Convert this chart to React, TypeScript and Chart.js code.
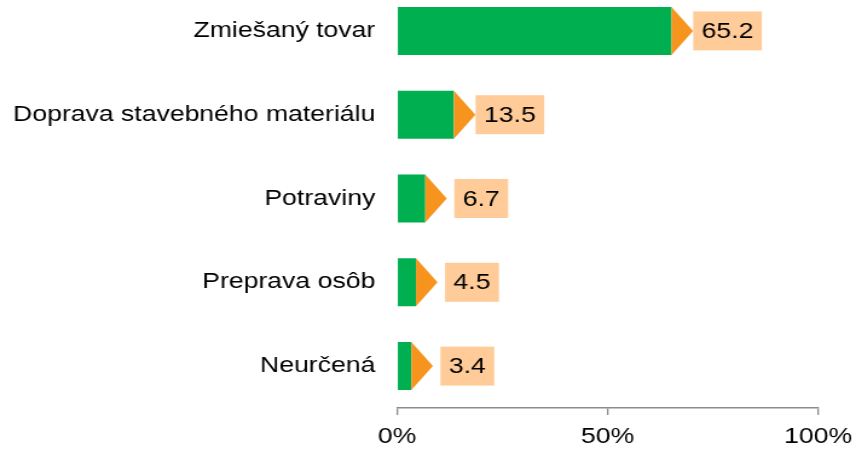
import React, { useEffect, useRef } from "react";
import { Chart, registerables } from "chart.js";

Chart.register(...registerables);

const categories = [
  "Zmiešaný tovar",
  "Doprava stavebného materiálu",
  "Potraviny",
  "Preprava osôb",
  "Neurčená",
];
const values = [65.2, 13.5, 6.7, 4.5, 3.4];
const xTicks = [0, 50, 100];

const GREEN = "#00B050";
const ORANGE = "#F7941E";
const PEACH = "#FFCC99";
const FONT = "'Liberation Sans', Arial, sans-serif";

// the reference is horizontally stretched; draw on a narrower canvas and stretch it
const CANVAS_W = 708;
const CANVAS_H = 462;
const STRETCH = 856 / CANVAS_W;

const arrowLabelPlugin = {
  id: "arrowLabels",
  afterDatasetsDraw(chart: any) {
    const ctx = chart.ctx;
    const meta = chart.getDatasetMeta(0);
    ctx.save();
    meta.data.forEach((bar: any, i: number) => {
      const x = bar.x;
      const y = bar.y;
      const h = bar.height;
      ctx.fillStyle = ORANGE;
      ctx.beginPath();
      ctx.moveTo(x, y - h / 2);
      ctx.lineTo(x + 17.8, y);
      ctx.lineTo(x, y + h / 2);
      ctx.closePath();
      ctx.fill();
      const text = values[i].toFixed(1);
      ctx.font = `22px ${FONT}`;
      const tw = ctx.measureText(text).width;
      const bw = tw + 14;
      const bh = 39;
      const cx = x + 46.3;
      ctx.fillStyle = PEACH;
      ctx.fillRect(cx - bw / 2, y - bh / 2, bw, bh);
      ctx.fillStyle = "#000";
      ctx.textAlign = "center";
      ctx.textBaseline = "middle";
      ctx.fillText(text, cx, y + 1);
    });
    ctx.restore();
  },
};

export default function App() {
  const ref = useRef<HTMLCanvasElement>(null);
  useEffect(() => {
    if (!ref.current) return;
    Chart.defaults.font.family = FONT;
    const chart = new Chart(ref.current, {
      type: "bar",
      data: {
        labels: categories,
        datasets: [
          {
            data: values,
            backgroundColor: GREEN,
            borderWidth: 0,
            barPercentage: 0.573,
            categoryPercentage: 1,
          },
        ],
      },
      options: {
        indexAxis: "y",
        animation: false,
        responsive: false,
        devicePixelRatio: 1,
        layout: { padding: { left: 0, right: 31.4, top: 0, bottom: 0 } },
        plugins: {
          legend: { display: false },
          tooltip: { enabled: false },
        },
        scales: {
          y: {
            grid: { display: false, drawTicks: false },
            border: { display: false },
            ticks: {
              color: "#000",
              font: { size: 22, family: FONT },
              padding: 18,
            },
            afterFit(scale: any) {
              scale.width = 328.4;
              scale.paddingTop = 0;
              scale.paddingBottom = 0;
            },
          },
          x: {
            min: 0,
            max: 100,
            afterBuildTicks(scale: any) {
              scale.ticks = xTicks.map((v) => ({ value: v }));
            },
            grid: {
              display: true,
              drawOnChartArea: false,
              drawTicks: true,
              tickLength: 7,
              color: "#8C8C8C",
              lineWidth: 1.3,
            },
            border: { display: true, color: "#8C8C8C", width: 1.5 },
            ticks: {
              color: "#000",
              font: { size: 22, family: FONT },
              padding: 9,
              maxRotation: 0,
              callback: (v: any) => `${v}%`,
            },
            afterFit(scale: any) {
              scale.height = 43;
              scale.paddingLeft = 0;
              scale.paddingRight = 0;
            },
          },
        },
      },
      plugins: [arrowLabelPlugin],
    });
    return () => chart.destroy();
  }, []);
  return (
    <div
      style={{
        position: "fixed",
        left: 0,
        top: -11,
        width: CANVAS_W,
        height: CANVAS_H,
        transform: `scaleX(${STRETCH})`,
        transformOrigin: "left top",
      }}
    >
      <canvas ref={ref} width={CANVAS_W} height={CANVAS_H} />
    </div>
  );
}
